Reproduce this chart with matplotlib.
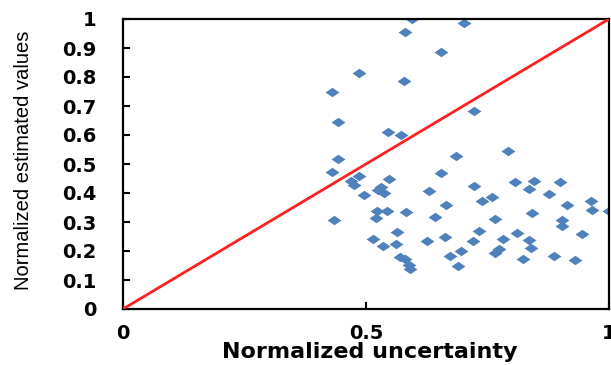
import matplotlib
matplotlib.use("Agg")
import matplotlib.pyplot as plt
import numpy as np

# Data (normalized uncertainty, normalized estimated value)
unc = [0.595, 0.702, 0.580, 0.654, 0.486, 0.578, 0.431, 0.443, 0.546, 0.573,
       0.443, 0.685, 0.722, 0.793, 0.431, 0.486, 0.470, 0.476, 0.547, 0.654,
       0.496, 0.531, 0.524, 0.538, 0.630, 0.722, 0.665, 0.522, 0.543, 0.582,
       0.521, 0.643, 0.435, 0.563, 0.663, 0.514, 0.625, 0.562, 0.536, 0.721,
       0.695, 0.672, 0.570, 0.580, 0.589, 0.591, 0.689, 0.807, 0.846, 0.899,
       0.836, 0.877, 0.759, 0.739, 0.913, 0.963, 0.964, 1.000, 0.842, 0.765,
       0.904, 0.904, 0.733, 0.944, 0.811, 0.836, 0.781, 0.840, 0.774, 0.765,
       0.887, 0.824, 0.931]
est = [1.000, 0.985, 0.956, 0.885, 0.815, 0.787, 0.747, 0.644, 0.609, 0.599,
       0.518, 0.528, 0.683, 0.545, 0.471, 0.460, 0.442, 0.428, 0.447, 0.470,
       0.393, 0.422, 0.410, 0.399, 0.407, 0.424, 0.359, 0.338, 0.339, 0.336,
       0.315, 0.318, 0.307, 0.267, 0.247, 0.241, 0.234, 0.224, 0.217, 0.236,
       0.201, 0.183, 0.180, 0.171, 0.152, 0.137, 0.148, 0.439, 0.442, 0.439,
       0.414, 0.397, 0.387, 0.373, 0.359, 0.373, 0.341, 0.339, 0.330, 0.309,
       0.307, 0.286, 0.270, 0.258, 0.261, 0.238, 0.241, 0.209, 0.206, 0.192,
       0.184, 0.172, 0.169]
ref_line_x = [0, 1]
ref_line_y = [0, 1]
xticks = [0, 0.5, 1]
xticklabels = ["0", "0.5", "1"]
yticks = [0, 0.1, 0.2, 0.3, 0.4, 0.5, 0.6, 0.7, 0.8, 0.9, 1.0]
yticklabels = ["0", "0.1", "0.2", "0.3", "0.4", "0.5", "0.6", "0.7", "0.8", "0.9", "1"]

W, H = 611, 365
fig = plt.figure(figsize=(W / 100, H / 100), dpi=100)
ax = fig.add_axes([123 / W, 1 - 309 / H, (609 - 123) / W, (309 - 19) / H])

diamond = [(-1, 0), (0, 0.68), (1, 0), (0, -0.68), (-1, 0)]
ax.plot(unc, est, linestyle="none", marker=diamond, markersize=10,
        color="#4F81BD", markeredgewidth=0, zorder=2)
ax.plot(ref_line_x, ref_line_y, color="#FF2020", linewidth=2.0, zorder=3,
        solid_capstyle="butt")

ax.set_xlim(0, 1)
ax.set_ylim(0, 1)
ax.set_xticks(xticks)
ax.set_yticks(yticks)
tickfont = dict(family="DejaVu Sans", weight="bold", size=14)
ax.set_xticklabels(xticklabels, fontdict=tickfont)
ax.set_yticklabels(yticklabels, fontdict=tickfont)
ax.tick_params(axis="both", direction="in", length=5, width=1.5, color="black")
ax.tick_params(axis="y", pad=19)
ax.tick_params(axis="x", pad=11)
for s in ax.spines.values():
    s.set_linewidth(1.6)
    s.set_color("black")

fig.text(370 / W, 1 - 352 / H, "Normalized uncertainty", ha="center", va="center",
         family="DejaVu Sans", weight="bold", size=16)
fig.text(24 / W, 1 - 160 / H, "Normalized estimated values", ha="center", va="center",
         rotation=90, family=["Liberation Sans Narrow", "Liberation Sans"], size=14.5)

fig.savefig("out.png", dpi=100)
